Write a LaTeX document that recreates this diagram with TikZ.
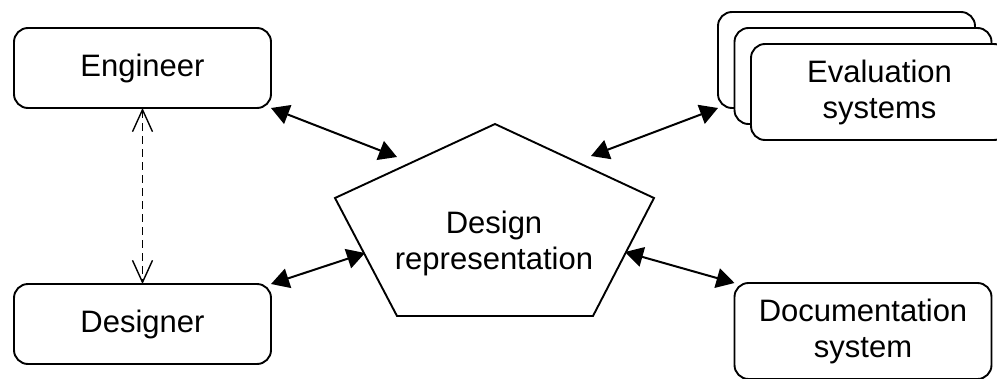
\documentclass[tikz,border=0pt]{standalone}
\usepackage{fontspec}
\setmainfont{Liberation Sans}
\usetikzlibrary{arrows.meta}
\begin{document}
\begin{tikzpicture}[x=1pt,y=-1pt,
  box/.style={draw, line width=1.9pt, rounded corners=14pt, fill=white,
    minimum width=257pt, inner sep=0pt, outer sep=0pt, align=center,
    font=\fontsize{31}{36}\selectfont},
  onebox/.style={box, minimum height=80pt},
  twobox/.style={box, minimum height=96pt},
  biarrow/.style={line width=2pt, {Triangle[length=18pt,width=20pt]}-{Triangle[length=18pt,width=20pt]}},
  linkarrow/.style={line width=1.4pt, dash pattern=on 8pt off 5pt,
    {Straight Barb[length=22pt,width=20pt]}-{Straight Barb[length=22pt,width=20pt]}}]
  \useasboundingbox (0,0) rectangle (997,378);
  \clip (0,0) rectangle (997,378);

  % people
  \node[onebox] (eng) at (142.5,68) {Engineer};
  \node[onebox] (des) at (142.5,324) {Designer};

  % stacked evaluation systems
  \node[twobox] (evalback) at (846.5,60) {};
  \node[twobox] (evalmid) at (863,76) {};
  \node[twobox] (eval) at (879.5,92) {Evaluation\\systems};

  % documentation
  \node[twobox] (doc) at (863,331) {Documentation\\system};

  % central representation
  \coordinate (pt) at (495,124);
  \coordinate (pl) at (335,198);
  \coordinate (pr) at (654,198);
  \coordinate (pbl) at (397,316);
  \coordinate (pbr) at (593,316);
  \draw[line width=1.9pt, line join=miter] (pt) -- (pr) -- (pbr) -- (pbl) -- (pl) -- cycle;
  \node[align=center, inner sep=0pt, font=\fontsize{31}{36}\selectfont] (rep) at (494,243) {Design\\representation};

  % connector ends on the representation
  \coordinate (repnw) at (397,157);
  \coordinate (repsw) at (365,253);
  \coordinate (repne) at (591,156);
  \coordinate (repse) at (625,252);

  \draw[biarrow] (eng.south east) -- (repnw);
  \draw[biarrow] (des.north east) -- (repsw);
  \draw[biarrow] (evalback.south west) -- (repne);
  \draw[biarrow] (doc.north west) -- (repse);
  \draw[linkarrow] (eng.south) -- (des.north);
\end{tikzpicture}
\end{document}
